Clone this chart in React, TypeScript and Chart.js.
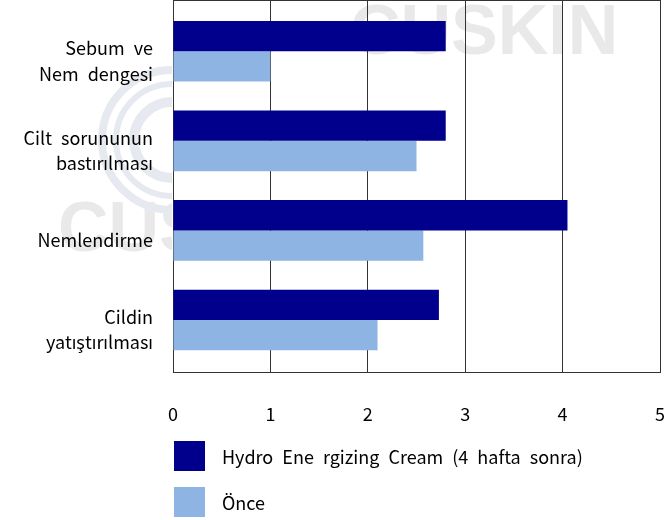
import React, { useEffect, useRef } from "react";
import { Chart, registerables } from "chart.js";

Chart.register(...registerables);

const categories: string[][] = [
  ["Sebum ve", "Nem dengesi"],
  ["Cilt sorununun", "bastırılması"],
  ["Nemlendirme"],
  ["Cildin", "yatıştırılması"],
];
const seriesNames: string[] = ["Hydro Ene rgizing Cream (4 hafta sonra)", "Önce"];
const afterValues: number[] = [2.8, 2.8, 4.05, 2.73];
const beforeValues: number[] = [1.0, 2.5, 2.57, 2.1];
const xTickValues: number[] = [0, 1, 2, 3, 4, 5];
const seriesColors: string[] = ["#00008C", "#8EB4E3"];
const watermarkText = "CUSKIN";

const FONT = '"Noto Sans CJK JP", "Noto Sans", sans-serif';
const LINE = "#333333";
const WORD_SPACING = "5px";

const setSpacing = (chart: any) => {
  try { chart.ctx.wordSpacing = WORD_SPACING; } catch (e) {}
};

const spacingPlugin = {
  id: "wordSpacing",
  afterInit: setSpacing,
  beforeUpdate: setSpacing,
  beforeLayout: setSpacing,
  beforeDraw: setSpacing,
};

const watermarkPlugin = {
  id: "watermark",
  beforeDraw(chart: any) {
    const { ctx, chartArea } = chart;
    ctx.save();
    ctx.wordSpacing = "0px";
    ctx.fillStyle = "#e9e9e9";
    ctx.font = 'bold 70px "Liberation Sans", Arial, sans-serif';
    ctx.textBaseline = "alphabetic";
    ctx.textAlign = "left";
    ctx.fillText(watermarkText, 350, 54);
    ctx.beginPath();
    ctx.rect(0, 0, chartArea.left - 1, chart.height);
    ctx.clip();
    ctx.fillText(watermarkText, 58, 251);
    ctx.strokeStyle = "#e6eaf0";
    const cx = 172, cy = 140;
    ctx.lineWidth = 8;
    ctx.beginPath(); ctx.arc(cx, cy, 70, 0, Math.PI * 2); ctx.stroke();
    ctx.lineWidth = 6;
    ctx.beginPath(); ctx.arc(cx, cy, 56, 0, Math.PI * 2); ctx.stroke();
    ctx.lineWidth = 10;
    ctx.beginPath(); ctx.arc(cx, cy, 38, 0, Math.PI * 2); ctx.stroke();
    ctx.restore();
  },
};

const framePlugin = {
  id: "frameTop",
  beforeDatasetsDraw(chart: any) {
    const { ctx, chartArea } = chart;
    ctx.save();
    ctx.strokeStyle = LINE;
    ctx.lineWidth = 1;
    ctx.beginPath();
    ctx.moveTo(chartArea.left, chartArea.top + 0.5);
    ctx.lineTo(chartArea.right, chartArea.top + 0.5);
    ctx.stroke();
    ctx.restore();
  },
};

const legendPlugin = {
  id: "bottomLegend",
  afterDraw(chart: any) {
    const { ctx, chartArea } = chart;
    ctx.save();
    ctx.wordSpacing = WORD_SPACING;
    chart.data.datasets.forEach((ds: any, i: number) => {
      const top = chartArea.bottom + 69 + i * 46;
      ctx.fillStyle = ds.backgroundColor;
      ctx.fillRect(chartArea.left + 1, top, 31, 30);
      ctx.fillStyle = "#000";
      ctx.font = `18px ${FONT}`;
      ctx.textBaseline = "middle";
      ctx.textAlign = "left";
      ctx.fillText(ds.label, chartArea.left + 49, top + 16);
    });
    ctx.restore();
  },
};

export default function App() {
  const ref = useRef<HTMLCanvasElement | null>(null);
  useEffect(() => {
    if (!ref.current) return;
    const chart = new Chart(ref.current, {
      type: "bar",
      data: {
        datasets: [
          {
            label: seriesNames[0],
            data: afterValues.map((v, i) => ({ x: v, y: i })),
            backgroundColor: seriesColors[0],
            borderWidth: 0,
          },
          {
            label: seriesNames[1],
            data: beforeValues.map((v, i) => ({ x: v, y: i })),
            backgroundColor: seriesColors[1],
            borderWidth: 0,
          },
        ],
      },
      options: {
        indexAxis: "y",
        animation: false,
        responsive: false,
        maintainAspectRatio: false,
        layout: { padding: { top: 0, left: 0, right: 12, bottom: 0 } },
        datasets: { bar: { categoryPercentage: 0.677, barPercentage: 1 } },
        plugins: { legend: { display: false }, tooltip: { enabled: false } },
        scales: {
          x: {
            type: "linear",
            min: 0,
            max: 5,
            afterBuildTicks: (s: any) => {
              s.ticks = xTickValues.map((v) => ({ value: v }));
            },
            afterFit: (s: any) => {
              s.height = 148;
              s.paddingLeft = 0;
              s.paddingRight = 0;
            },
            grid: { color: LINE, lineWidth: 1, drawTicks: false },
            border: { display: true, color: LINE, width: 1 },
            ticks: {
              color: "#000",
              font: { family: FONT, size: 18 },
              padding: 31,
              maxRotation: 0,
            },
          },
          y: {
            type: "linear",
            reverse: true,
            offset: false,
            min: -0.572,
            max: 3.58,
            afterFit: (s: any) => {
              s.width = 173;
              s.paddingTop = 0;
              s.paddingBottom = 0;
            },
            grid: { display: false, drawTicks: false, offset: false },
            border: { display: true, color: LINE, width: 1 },
            ticks: {
              stepSize: 1,
              includeBounds: false,
              autoSkip: false,
              color: "#000",
              padding: 20,
              labelOffset: 10,
              font: { family: FONT, size: 18, lineHeight: 1.4 },
              callback: (v: any) => {
                const i = Math.round(Number(v));
                return Math.abs(Number(v) - i) < 1e-6 && categories[i] ? categories[i] : "";
              },
            },
          },
        },
      },
      plugins: [spacingPlugin, watermarkPlugin, framePlugin, legendPlugin],
    } as any);
    return () => chart.destroy();
  }, []);
  return (
    <div style={{ position: "absolute", left: 0, top: 0, width: 672, height: 520, background: "#fff" }}>
      <canvas ref={ref} width={672} height={520} style={{ display: "block" }} />
    </div>
  );
}
